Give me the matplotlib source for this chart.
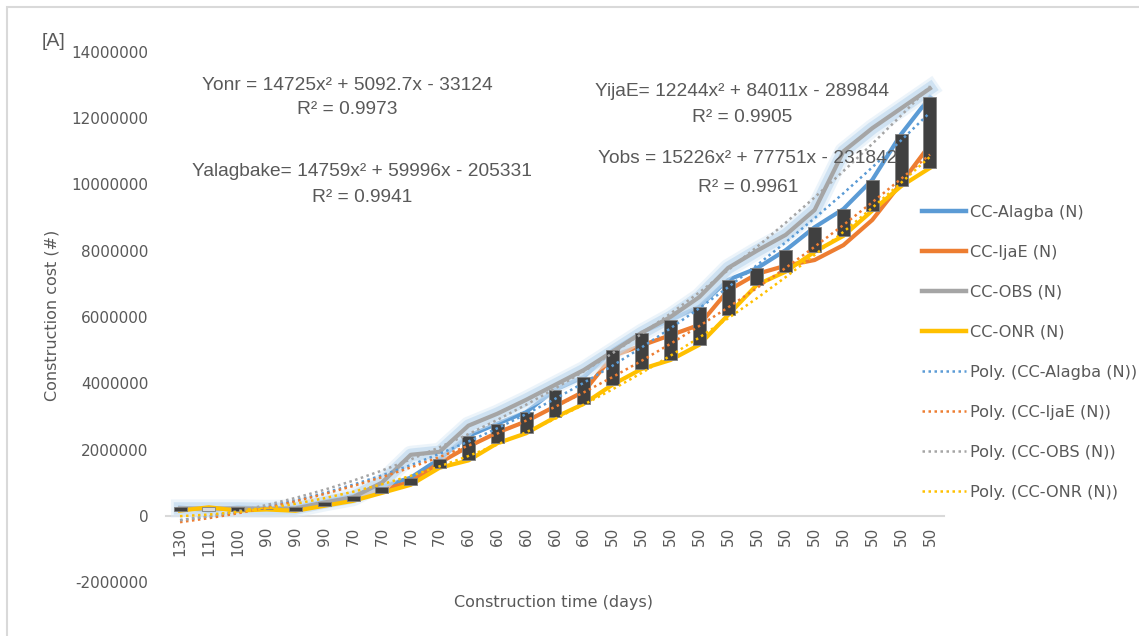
import numpy as np
import matplotlib
matplotlib.use('Agg')
import matplotlib.pyplot as plt
import matplotlib.patheffects as pe
from matplotlib.lines import Line2D
from matplotlib.patches import Rectangle

# ---------------- data ----------------
categories = ['130', '110', '100', '90', '90', '90', '70', '70', '70', '70',
              '60', '60', '60', '60', '60',
              '50', '50', '50', '50', '50', '50', '50', '50', '50', '50', '50', '50']

cc_alagba = [255e3, 150e3, 255e3, 215e3, 250e3, 430e3, 600e3, 875e3, 1.15e6, 1.72e6,
             2.41e6, 2.78e6, 3.13e6, 3.80e6, 4.19e6, 5.00e6, 5.53e6, 5.91e6, 6.31e6, 7.12e6,
             7.47e6, 8.02e6, 8.71e6, 9.26e6, 10.14e6, 11.52e6, 12.64e6]
cc_ijae = [210e3, 200e3, 210e3, 200e3, 200e3, 360e3, 520e3, 780e3, 1.02e6, 1.60e6,
           2.09e6, 2.51e6, 2.85e6, 3.30e6, 3.75e6, 4.82e6, 5.14e6, 5.45e6, 5.76e6, 6.80e6,
           7.30e6, 7.55e6, 7.72e6, 8.17e6, 8.93e6, 10.04e6, 11.20e6]
cc_obs = [220e3, 220e3, 220e3, 210e3, 220e3, 400e3, 560e3, 1.00e6, 1.84e6, 1.93e6,
          2.72e6, 3.08e6, 3.50e6, 3.95e6, 4.40e6, 4.96e6, 5.52e6, 6.00e6, 6.60e6, 7.48e6,
          8.00e6, 8.48e6, 9.23e6, 11.00e6, 11.70e6, 12.30e6, 12.90e6]
cc_onr = [155e3, 255e3, 155e3, 190e3, 150e3, 300e3, 450e3, 690e3, 935e3, 1.45e6,
          1.67e6, 2.19e6, 2.49e6, 2.97e6, 3.38e6, 3.96e6, 4.43e6, 4.70e6, 5.16e6, 6.06e6,
          6.97e6, 7.37e6, 7.97e6, 8.45e6, 9.21e6, 9.95e6, 10.50e6]

# polynomial trendline coefficients (as displayed on the chart)
poly_alagba = [14759, 59996, -205331]
poly_ijae = [12244, 84011, -289844]
poly_obs = [15226, 77751, -231842]
poly_onr = [14725, 5092.7, -33124]

series_names = ['CC-Alagba (N)', 'CC-IjaE (N)', 'CC-OBS (N)', 'CC-ONR (N)']
y_ticks = [-2000000, 0, 2000000, 4000000, 6000000, 8000000, 10000000, 12000000, 14000000]

# ---------------- style ----------------
BLUE, ORANGE, GRAY, GOLD = '#5B9BD5', '#ED7D31', '#A5A5A5', '#FFC000'
TXT = '#595959'
W, H = 1139, 636
EQ_FONT = ['Liberation Sans', 'DejaVu Sans']

fig = plt.figure(figsize=(W / 100, H / 100), dpi=100)
ax = fig.add_axes([165.6 / W, 1 - 582 / H, (944.4 - 165.6) / W, (582 - 52) / H])

x = np.arange(len(categories))
alagba = np.array(cc_alagba)
ijae = np.array(cc_ijae)
obs = np.array(cc_obs)
onr = np.array(cc_onr)

lw_series = 3.0
ax.plot(x, alagba, color=BLUE, lw=lw_series, zorder=2.0, solid_joinstyle='round')
ax.plot(x, ijae, color=ORANGE, lw=lw_series, zorder=2.1, solid_joinstyle='round')
ax.plot(x, obs, color=GRAY, lw=lw_series, zorder=2.2, solid_joinstyle='round',
        path_effects=[pe.Stroke(linewidth=13, foreground='#DEEBF7', alpha=0.55),
                      pe.Stroke(linewidth=9, foreground='#BDD7EE', alpha=0.6),
                      pe.Normal()])
ax.plot(x, onr, color=GOLD, lw=lw_series, zorder=2.3, solid_joinstyle='round')

# up-down bars between first (Alagba) and last (ONR) series
bottoms = np.minimum(alagba, onr)
heights = np.abs(alagba - onr)
bar_cols = ['#404040' if a >= o else '#D9D9D9' for a, o in zip(alagba, onr)]
ax.bar(x, heights, bottom=bottoms, width=0.45, color=bar_cols,
       edgecolor='#808080', linewidth=0.6, zorder=3)

# trendlines
xt = x + 1
dot = (0, (1, 1.4))
for coef, col in [(poly_alagba, BLUE), (poly_ijae, ORANGE), (poly_obs, GRAY), (poly_onr, GOLD)]:
    ax.plot(x, np.polyval(coef, xt), color=col, lw=1.8, linestyle=dot,
            dash_capstyle='butt', zorder=4)

ax.set_xlim(-0.5, len(categories) - 0.5)
ax.set_ylim(-2000000, 14000000)
ax.set_xticks(x)
ax.set_xticklabels(categories)
ax.set_yticks(y_ticks)
ax.set_yticklabels([str(t) for t in y_ticks])
ax.tick_params(axis='x', length=0, pad=8, labelsize=11, labelcolor=TXT, labelrotation=90)
ax.tick_params(axis='y', length=0, pad=12.5, labelsize=11, labelcolor=TXT)
for s in ['left', 'right', 'top']:
    ax.spines[s].set_visible(False)
ax.spines['bottom'].set_position(('data', 0))
ax.spines['bottom'].set_color('#D9D9D9')
ax.spines['bottom'].set_linewidth(1.5)
ax.spines['bottom'].set_zorder(1)
ax.patch.set_alpha(0)

# axis titles
fig.text(52 / W, 1 - 315 / H, 'Construction cost (#)', rotation=90, ha='center', va='center',
         fontsize=11.5, color=TXT)
fig.text(553 / W, 1 - 602 / H, 'Construction time (days)', ha='center', va='center',
         fontsize=11.5, color=TXT)

# equations
def eq(px, py, s):
    fig.text(px / W, 1 - py / H, s, ha='center', va='center', fontsize=13.8,
             color=TXT, family=EQ_FONT)

eq(347, 85, 'Yonr = 14725x² + 5092.7x - 33124')
eq(347, 110, 'R² = 0.9973')
eq(362, 172, 'Yalagbake= 14759x² + 59996x - 205331')
eq(362, 197, 'R² = 0.9941')
eq(742, 92, 'YijaE= 12244x² + 84011x - 289844')
eq(742, 118, 'R² = 0.9905')
eq(748, 158, 'Yobs = 15226x² + 77751x - 231842')
eq(748, 187, 'R² = 0.9961')

fig.text(42 / W, 1 - 42 / H, '[A]', ha='left', va='center', fontsize=14, color=TXT, family=EQ_FONT)

# legend
handles = [Line2D([], [], color=c, lw=3.2) for c in [BLUE, ORANGE, GRAY, GOLD]]
handles += [Line2D([], [], color=c, lw=1.8, linestyle=dot) for c in [BLUE, ORANGE, GRAY, GOLD]]
labels = series_names + ['Poly. (%s)' % n for n in series_names]
leg = fig.legend(handles, labels, loc='upper left', bbox_to_anchor=(922 / W, 1 - 205 / H),
                 frameon=False, fontsize=11.6, handlelength=2.75, handletextpad=0.25,
                 labelspacing=1.55, borderaxespad=0, borderpad=0)
for t in leg.get_texts():
    t.set_color(TXT)

# chart border
fig.add_artist(Rectangle((7 / W, -0.1), 2, 1.1 - 7 / H, transform=fig.transFigure,
                         fill=False, edgecolor='#D9D9D9', lw=1.5))

fig.savefig('out.png', dpi=100)
